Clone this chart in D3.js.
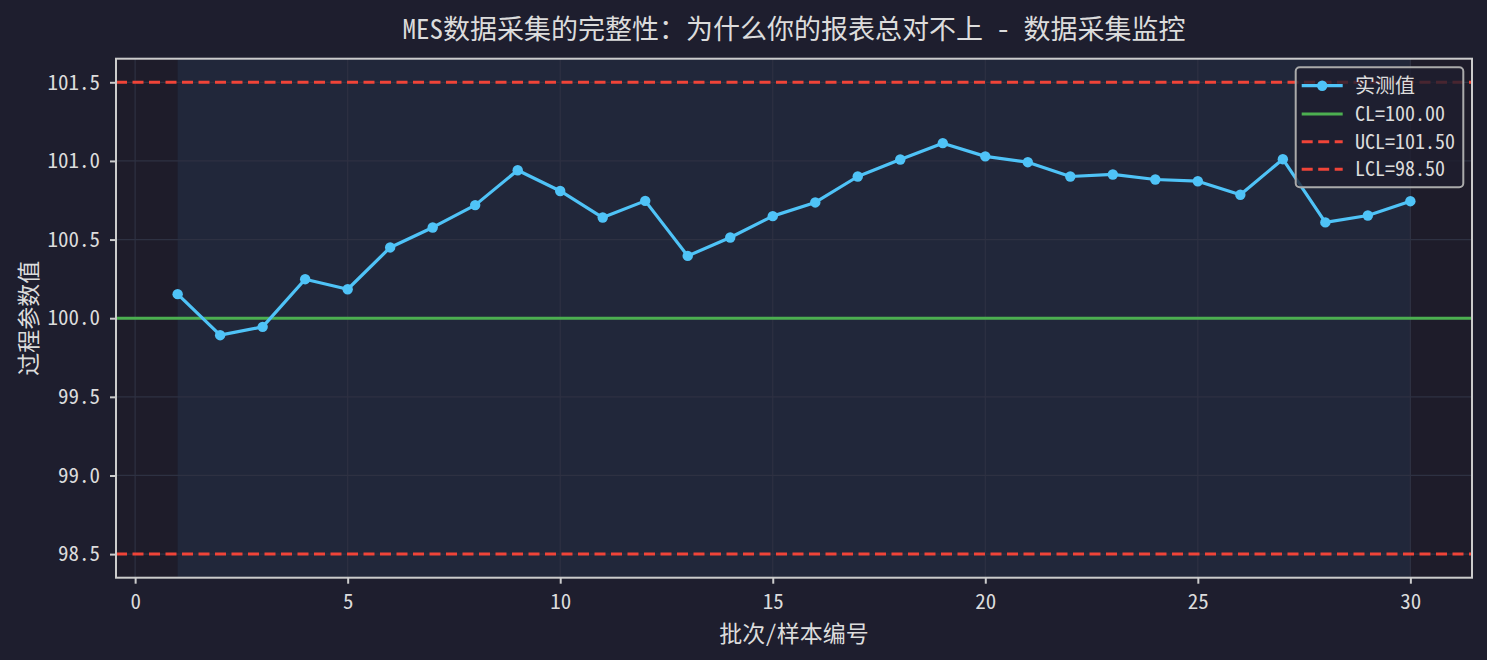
<!DOCTYPE html>
<html><head><meta charset="utf-8">
<script src="https://cdn.jsdelivr.net/npm/d3@7"></script>
<style>
html,body{margin:0;padding:0;background:#1e1e2e;}
svg{display:block;}
</style></head>
<body>
<svg id="chart" width="1487" height="660"></svg>
<script>
const batches = [1,2,3,4,5,6,7,8,9,10,11,12,13,14,15,16,17,18,19,20,21,22,23,24,25,26,27,28,29,30];
const values = [100.153,99.892,99.945,100.248,100.184,100.450,100.577,100.719,100.941,100.809,
  100.640,100.746,100.396,100.513,100.649,100.736,100.901,101.009,101.113,101.029,
  100.992,100.901,100.914,100.882,100.871,100.785,101.011,100.609,100.653,100.744];
const CL = 100.00, UCL = 101.50, LCL = 98.50;
const xTicks = [0,5,10,15,20,25,30];
const yTicks = [98.5,99.0,99.5,100.0,100.5,101.0,101.5];
const title = "MES数据采集的完整性：为什么你的报表总对不上 - 数据采集监控";
const xLabel = "批次/样本编号";
const yLabel = "过程参数值";
const legendLabels = ["实测值", "CL=100.00", "UCL=101.50", "LCL=98.50"];

const FONT = '"Noto Sans Mono CJK SC","Noto Sans CJK SC","DejaVu Sans Mono",monospace';
const TXT = "#dcdcdc";
const svg = d3.select("#chart").style("font-family", FONT);
const W = 1487, H = 660;
const m = {left:116, right:W-1472, top:58.7, bottom:H-577.7};
const iw = W - m.left - m.right, ih = H - m.top - m.bottom;

svg.append("rect").attr("width",W).attr("height",H).attr("fill","#1e1e2e");

const xMin = d3.min(batches), xMax = d3.max(batches);
const xPad = (xMax - xMin)*0.05;
const x = d3.scaleLinear().domain([xMin - xPad, xMax + xPad]).range([m.left, m.left+iw]);
const yLo = Math.min(LCL, d3.min(values)), yHi = Math.max(UCL, d3.max(values));
const yPad = (yHi - yLo)*0.05;
const y = d3.scaleLinear().domain([yLo - yPad, yHi + yPad]).range([m.top+ih, m.top]);

const g = svg.append("g");
g.append("rect").attr("x",m.left).attr("y",m.top).attr("width",iw).attr("height",ih).attr("fill","#1e1c2a");
// span over sampled batches
g.append("rect").attr("x",x(xMin)).attr("y",m.top).attr("width",x(xMax)-x(xMin)).attr("height",ih)
  .attr("fill","#22283b").attr("opacity",0.95);

// grid
g.append("g").selectAll("line").data(xTicks).join("line")
  .attr("x1",d=>x(d)).attr("x2",d=>x(d)).attr("y1",m.top).attr("y2",m.top+ih)
  .attr("stroke","#2e3142").attr("stroke-width",1.2);
g.append("g").selectAll("line").data(yTicks).join("line")
  .attr("y1",d=>y(d)).attr("y2",d=>y(d)).attr("x1",m.left).attr("x2",m.left+iw)
  .attr("stroke","#2e3142").attr("stroke-width",1.2);

// control lines
const hl = [{v:UCL,c:"#f04438",dash:"11,5.5"},{v:LCL,c:"#f04438",dash:"11,5.5"},{v:CL,c:"#4caf50",dash:null}];
g.append("g").selectAll("line").data(hl).join("line")
  .attr("x1",m.left).attr("x2",m.left+iw).attr("y1",d=>y(d.v)).attr("y2",d=>y(d.v))
  .attr("stroke",d=>d.c).attr("stroke-width",3).attr("stroke-dasharray",d=>d.dash);

// data line
const pts = batches.map((b,i)=>[b, values[i]]);
g.append("path").datum(pts).attr("fill","none").attr("stroke","#4fc3f7").attr("stroke-width",3.2)
  .attr("stroke-linejoin","round")
  .attr("d", d3.line().x(d=>x(d[0])).y(d=>y(d[1])));
g.append("g").selectAll("circle").data(pts).join("circle")
  .attr("cx",d=>x(d[0])).attr("cy",d=>y(d[1])).attr("r",5.2).attr("fill","#4fc3f7");

// axes
const xAxis = d3.axisBottom(x).tickValues(xTicks).tickSize(6).tickPadding(10).tickFormat(d3.format("d"));
const yAxis = d3.axisLeft(y).tickValues(yTicks).tickSize(6).tickPadding(10).tickFormat(d3.format(".1f"));
const ax = svg.append("g").attr("transform",`translate(0,${m.top+ih})`).call(xAxis);
const ay = svg.append("g").attr("transform",`translate(${m.left},0)`).call(yAxis);
[ax,ay].forEach(a=>{
  a.select(".domain").remove();
  a.selectAll(".tick line").attr("stroke","#cccccc").attr("stroke-width",2);
  a.selectAll(".tick text").attr("fill",TXT).style("font-size","21px").style("font-family",FONT);
});
// spines
svg.append("rect").attr("x",m.left).attr("y",m.top).attr("width",iw).attr("height",ih)
  .attr("fill","none").attr("stroke","#cccccc").attr("stroke-width",2);

// title & labels
svg.append("text").attr("x",m.left+iw/2).attr("y",39).attr("text-anchor","middle")
  .attr("fill",TXT).style("font-size","27px").text(title);
svg.append("text").attr("x",m.left+iw/2).attr("y",642).attr("text-anchor","middle")
  .attr("fill",TXT).style("font-size","23px").text(xLabel);
svg.append("text").attr("transform",`translate(37,${m.top+ih/2}) rotate(-90)`).attr("text-anchor","middle")
  .attr("fill",TXT).style("font-size","23px").text(yLabel);

// legend
const lg = svg.append("g");
const lx = 1295.7, ly = 67.3, lw = 167.6, lh = 120;
lg.append("rect").attr("x",lx).attr("y",ly).attr("width",lw).attr("height",lh).attr("rx",4)
  .attr("fill","#1e1e2e").attr("fill-opacity",0.8).attr("stroke","#aaaaaa").attr("stroke-width",2);
const items = [
  {label:legendLabels[0], c:"#4fc3f7", dash:null, marker:true, w:3.2},
  {label:legendLabels[1], c:"#4caf50", dash:null, marker:false, w:3},
  {label:legendLabels[2], c:"#f04438", dash:"11,5.5", marker:false, w:3},
  {label:legendLabels[3], c:"#f04438", dash:"11,5.5", marker:false, w:3}
];
const rowY = [85.7,114,141.7,169.3];
items.forEach((it,i)=>{
  const yy = rowY[i];
  lg.append("line").attr("x1",1301.7).attr("x2",1342.7).attr("y1",yy).attr("y2",yy)
    .attr("stroke",it.c).attr("stroke-width",it.w).attr("stroke-dasharray",it.dash);
  if(it.marker) lg.append("circle").attr("cx",1322.2).attr("cy",yy).attr("r",5.2).attr("fill",it.c);
  lg.append("text").attr("x",1355).attr("y",yy).attr("dy","0.35em").attr("fill",TXT)
    .style("font-size","20px").text(it.label);
});
</script>
</body></html>
